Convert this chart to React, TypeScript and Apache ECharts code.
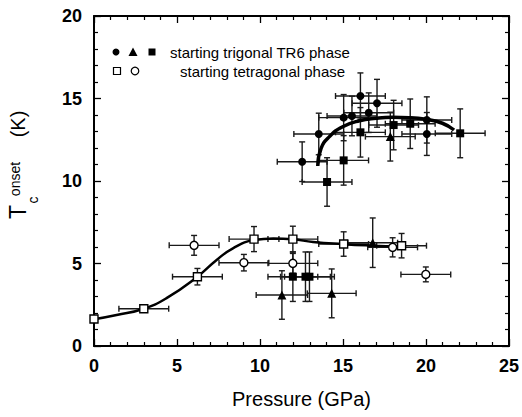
import React, { useEffect, useRef } from "react";
import * as echarts from "echarts";

// [pressure GPa, Tc K, xErr, yErr]
const trigonalCircles = [
  [12.54, 11.17, 1.5, 1.2],
  [13.54, 12.85, 1.5, 1.26],
  [15.04, 13.84, 1.5, 1.4],
  [15.54, 13.94, 1.5, 1.2],
  [16.05, 15.15, 1.5, 1.4],
  [16.55, 14.14, 1.5, 1.2],
  [17.05, 14.71, 1.5, 1.45],
  [20.05, 13.7, 1.5, 1.4],
  [20.05, 12.85, 1.5, 1.3],
];
const trigonalSquares = [
  [14.04, 9.94, 1.5, 1.47],
  [15.04, 11.25, 1.5, 1.5],
  [16.05, 12.95, 1.5, 1.5],
  [18.05, 13.39, 1.5, 1.5],
  [19.05, 13.47, 1.5, 1.5],
  [22.06, 12.89, 1.5, 1.48],
  [11.98, 4.2, 1.5, 1.5],
  [12.74, 4.2, 1.5, 1.5],
  [12.98, 4.2, 1.5, 1.5],
];
const trigonalTriangles = [
  [17.85, 12.69, 1.5, 1.48],
  [11.32, 3.09, 1.55, 1.47],
  [14.32, 3.19, 1.47, 1.48],
  [16.79, 6.26, 1.5, 1.5],
];
const tetragonalSquares = [
  [0, 1.64, 0, 0],
  [3.0, 2.26, 1.5, 0],
  [6.23, 4.2, 1.5, 0.5],
  [9.64, 6.48, 1.5, 0.76],
  [11.98, 6.48, 1.5, 0.78],
  [15.04, 6.18, 1.5, 0.74],
  [18.53, 6.08, 1.5, 0.74],
];
const tetragonalCircles = [
  [6.03, 6.1, 1.5, 0.6],
  [9.03, 5.05, 1.5, 0.5],
  [11.98, 5.01, 1.5, 0.6],
  [17.99, 5.98, 1.5, 0.58],
  [19.99, 4.34, 1.5, 0.45],
];
// guide curves
const upperCurve = [
  [13.48, 10.91], [13.68, 11.98], [14.18, 12.69], [14.98, 13.29], [15.99, 13.65],
  [16.99, 13.8], [17.99, 13.86], [18.99, 13.84], [19.99, 13.74], [20.99, 13.5], [21.69, 13.09],
];
const lowerCurve = [
  [0, 1.62], [1.36, 1.88], [3.0, 2.26], [4.37, 2.9], [6.23, 4.2], [7.37, 5.2], [8.37, 5.92],
  [9.64, 6.42], [10.8, 6.52], [11.98, 6.47], [13.2, 6.3], [15.04, 6.17], [16.8, 6.08], [18.8, 6.0],
];
const xTicks = { min: 0, max: 25, interval: 5 };
const yTicks = { min: 0, max: 20, interval: 5 };

const FONT = "'Liberation Sans', Arial, Helvetica, sans-serif";

function errorSeries(data: number[][]) {
  return {
    type: "custom",
    data,
    encode: { x: 0, y: 1 },
    z: 2,
    clip: true,
    silent: true,
    renderItem: (params: any, api: any) => {
      const x = api.value(0), y = api.value(1), ex = api.value(2), ey = api.value(3);
      const st = { stroke: "#1a1a1a", lineWidth: 1.4 };
      const cap = 3;
      const ch: any[] = [];
      if (ex > 0) {
        const l = api.coord([x - ex, y]);
        const r = api.coord([x + ex, y]);
        ch.push({ type: "line", shape: { x1: l[0], y1: l[1], x2: r[0], y2: r[1] }, style: st });
        ch.push({ type: "line", shape: { x1: l[0], y1: l[1] - cap, x2: l[0], y2: l[1] + cap }, style: st });
        ch.push({ type: "line", shape: { x1: r[0], y1: r[1] - cap, x2: r[0], y2: r[1] + cap }, style: st });
      }
      if (ey > 0) {
        const t = api.coord([x, y + ey]);
        const b = api.coord([x, y - ey]);
        ch.push({ type: "line", shape: { x1: t[0], y1: t[1], x2: b[0], y2: b[1] }, style: st });
        ch.push({ type: "line", shape: { x1: t[0] - cap, y1: t[1], x2: t[0] + cap, y2: t[1] }, style: st });
        ch.push({ type: "line", shape: { x1: b[0] - cap, y1: b[1], x2: b[0] + cap, y2: b[1] }, style: st });
      }
      return { type: "group", children: ch };
    },
  };
}

function scatter(data: number[][], symbol: string, size: number, filled: boolean) {
  return {
    type: "scatter",
    data: data.map((d) => [d[0], d[1]]),
    symbol,
    symbolSize: size,
    z: 5,
    itemStyle: filled
      ? { color: "#000", opacity: 1 }
      : { color: "#fff", borderColor: "#000", borderWidth: 1.4, opacity: 1 },
  };
}

export default function App() {
  const ref = useRef<HTMLDivElement>(null);
  useEffect(() => {
    if (!ref.current) return;
    const chart = echarts.init(ref.current, null, { renderer: "svg" });
    const axisCommon = {
      axisLine: { show: true, onZero: false, lineStyle: { color: "#000", width: 2 } },
      axisTick: { show: true, inside: true, length: 7, lineStyle: { color: "#000", width: 1.3 } },
      minorTick: { show: true, splitNumber: 5, length: 4, lineStyle: { color: "#000", width: 1.2 } },
      splitLine: { show: false },
      minorSplitLine: { show: false },
    };
    chart.setOption({
      animation: false,
      backgroundColor: "#fff",
      grid: { left: 94, right: 12, top: 16, bottom: 71, containLabel: false },
      xAxis: [
        {
          type: "value", ...xTicks, position: "bottom", ...axisCommon,
          axisLabel: { color: "#000", fontFamily: FONT, fontWeight: "bold", fontSize: 18, margin: 11 },
          name: "Pressure (GPa)", nameLocation: "middle", nameGap: 43,
          nameTextStyle: { color: "#000", fontFamily: FONT, fontSize: 20 },
        },
        { type: "value", ...xTicks, position: "top", ...axisCommon, axisLabel: { show: false } },
      ],
      yAxis: [
        {
          type: "value", ...yTicks, position: "left", ...axisCommon,
          axisLabel: { color: "#000", fontFamily: FONT, fontWeight: "bold", fontSize: 18, margin: 12 },
        },
        { type: "value", ...yTicks, position: "right", ...axisCommon, axisLabel: { show: false } },
      ],
      series: [
        errorSeries([...trigonalCircles, ...trigonalSquares, ...trigonalTriangles, ...tetragonalSquares, ...tetragonalCircles]),
        {
          type: "line", data: lowerCurve, smooth: 0.5, symbol: "none", z: 3,
          lineStyle: { color: "#000", width: 2.5 },
        },
        {
          type: "line", data: upperCurve, smooth: 0.5, symbol: "none", z: 3,
          lineStyle: { color: "#000", width: 3.5 },
        },
        scatter(trigonalCircles, "circle", 8, true),
        scatter(trigonalSquares, "rect", 8, true),
        scatter(trigonalTriangles, "triangle", 9, true),
        scatter(tetragonalSquares, "rect", 8, false),
        scatter(tetragonalCircles, "circle", 8, false),
      ],
      graphic: [
        // legend
        { type: "circle", shape: { cx: 116, cy: 52, r: 3.5 }, style: { fill: "#000" } },
        { type: "polygon", shape: { points: [[133, 47.5], [137.5, 56], [128.5, 56]] }, style: { fill: "#000" } },
        { type: "rect", shape: { x: 148.5, y: 48.5, width: 7, height: 7 }, style: { fill: "#000" } },
        { type: "text", x: 170, y: 52, style: { text: "starting trigonal TR6 phase", font: `15px ${FONT}`, fill: "#000", textVerticalAlign: "middle" } },
        { type: "rect", shape: { x: 113.5, y: 67.5, width: 7, height: 7 }, style: { fill: "#fff", stroke: "#000", lineWidth: 1.2 } },
        { type: "circle", shape: { cx: 135, cy: 71, r: 3.8 }, style: { fill: "#fff", stroke: "#000", lineWidth: 1.2 } },
        { type: "text", x: 180, y: 71, style: { text: "starting tetragonal phase", font: `15px ${FONT}`, fill: "#000", textVerticalAlign: "middle" } },
        // y-axis title
        { type: "text", x: 18, y: 212, rotation: Math.PI / 2, style: { text: "T", font: `23px ${FONT}`, fill: "#000", textAlign: "center", textVerticalAlign: "middle" } },
        { type: "text", x: 15, y: 179, rotation: Math.PI / 2, style: { text: "onset", font: `14px ${FONT}`, fill: "#000", textAlign: "center", textVerticalAlign: "middle" } },
        { type: "text", x: 33, y: 200, rotation: Math.PI / 2, style: { text: "c", font: `14px ${FONT}`, fill: "#000", textAlign: "center", textVerticalAlign: "middle" } },
        { type: "text", x: 18, y: 124, rotation: Math.PI / 2, style: { text: "(K)", font: `20px ${FONT}`, fill: "#000", textAlign: "center", textVerticalAlign: "middle" } },
      ],
    });
    return () => chart.dispose();
  }, []);
  return <div ref={ref} style={{ width: 522, height: 417, position: "absolute", left: 0, top: 0 }} />;
}
